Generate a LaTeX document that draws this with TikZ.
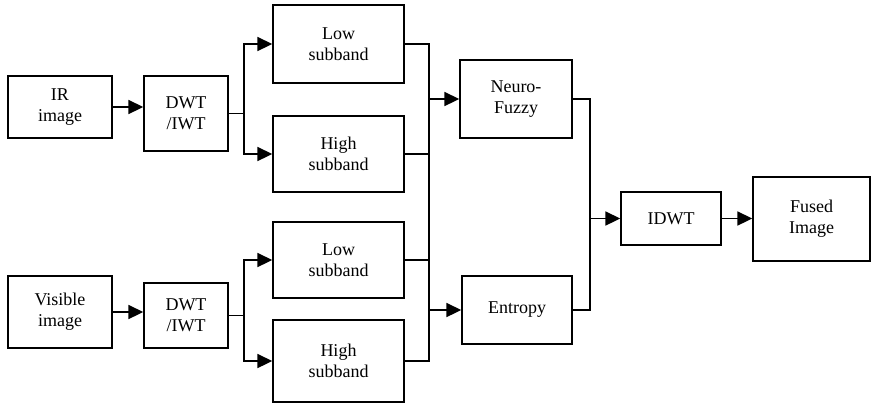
\documentclass[tikz,border=0pt]{standalone}
\usepackage{fontspec}
\setmainfont{Liberation Serif}
\usetikzlibrary{arrows.meta}

\begin{document}
\begin{tikzpicture}[
  x=0.75pt, y=-0.75pt,
  block/.style={
    rectangle,
    draw=black,
    line width=1.3pt,
    inner sep=0pt,
    align=center,
    font=\fontsize{13.5}{16}\selectfont
  },
  wire/.style={
    line width=1.3pt,
    draw=black
  },
  edge/.style={
    wire,
    -{Triangle[length=11pt,width=10.5pt]}
  }
  ]
  \useasboundingbox (0,0) rectangle (871,404);

  % inputs and transforms
  \node[block, minimum width=104*0.75pt, minimum height=62*0.75pt] (ir) at (60,107) {IR\\image};
  \node[block, minimum width=84*0.75pt, minimum height=75*0.75pt] (dwta) at (186,113.5) {DWT\\/IWT};
  \node[block, minimum width=104*0.75pt, minimum height=72*0.75pt] (vis) at (60,312) {Visible\\image};
  \node[block, minimum width=84*0.75pt, minimum height=65*0.75pt] (dwtb) at (186,315.5) {DWT\\/IWT};

  % subbands
  \node[block, minimum width=131*0.75pt, minimum height=78*0.75pt] (lowa) at (338.5,44) {Low\\subband};
  \node[block, minimum width=131*0.75pt, minimum height=76*0.75pt] (higha) at (338.5,154) {High\\subband};
  \node[block, minimum width=131*0.75pt, minimum height=76*0.75pt] (lowb) at (338.5,260) {Low\\subband};
  \node[block, minimum width=131*0.75pt, minimum height=82*0.75pt] (highb) at (338.5,361) {High\\subband};

  % fusion rules and output
  \node[block, minimum width=112*0.75pt, minimum height=78*0.75pt] (nf) at (516,99) {Neuro-\\Fuzzy};
  \node[block, minimum width=110*0.75pt, minimum height=68*0.75pt] (ent) at (517,310) {Entropy};
  \node[block, minimum width=100*0.75pt, minimum height=53*0.75pt] (idwt) at (671,218.5) {IDWT};
  \node[block, minimum width=117*0.75pt, minimum height=84*0.75pt] (fused) at (811.5,219) {Fused\\Image};

  \coordinate (bustop) at (429,44);
  \coordinate (busbot) at (429,361);
  \coordinate (mrg) at (590,218.5);

  \draw[edge] (ir.east) -- (ir.east -| dwta.west);
  \draw[edge] (vis.east) -- (vis.east -| dwtb.west);

  \draw[edge] (dwta.east) -- ++(15,0) |- (lowa.west);
  \draw[edge] (dwta.east) -- ++(15,0) |- (higha.west);
  \draw[edge] (dwtb.east) -- ++(15,0) |- (lowb.west);
  \draw[edge] (dwtb.east) -- ++(15,0) |- (highb.west);

  \draw[wire] (lowa.east) -- (bustop) -- (busbot) -- (highb.east);
  \draw[wire] (higha.east) -- (higha.east -| bustop);
  \draw[wire] (lowb.east) -- (lowb.east -| bustop);
  \draw[edge] (nf.west -| bustop) -- (nf.west);
  \draw[edge] (ent.west -| bustop) -- (ent.west);

  \draw[wire] (nf.east) -| (mrg) |- (ent.east);
  \draw[edge] (mrg) -- (idwt.west);
  \draw[edge] (idwt.east) -- (idwt.east -| fused.west);
\end{tikzpicture}
\end{document}
